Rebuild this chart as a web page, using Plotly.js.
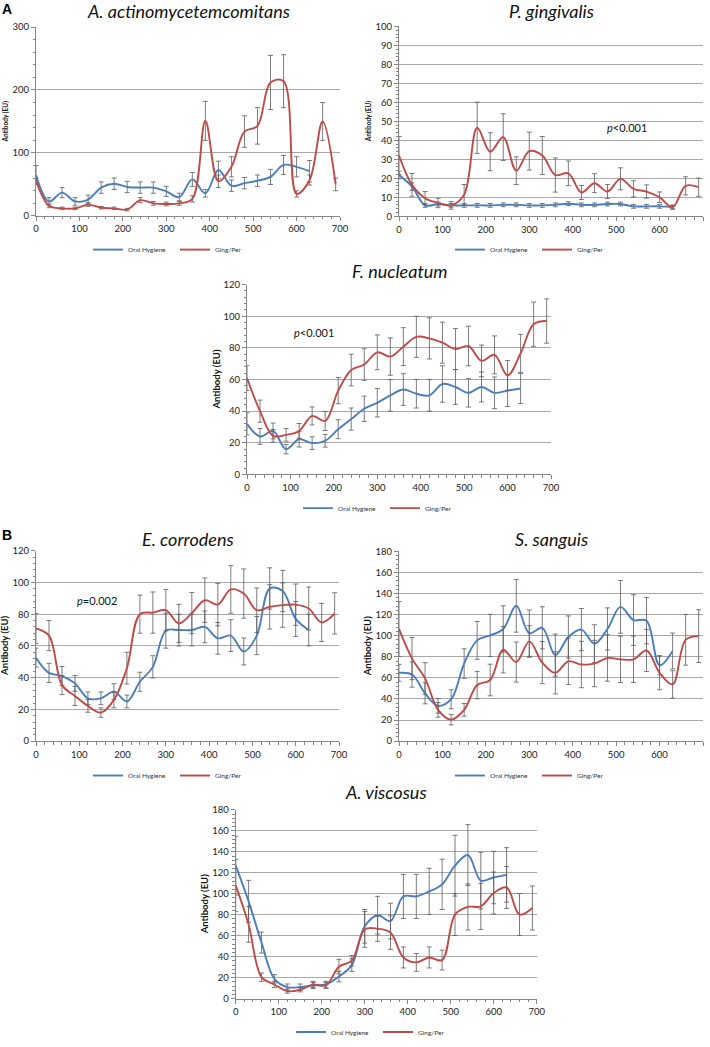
<!DOCTYPE html>
<html>
<head>
<meta charset="utf-8">
<script src="https://cdn.plot.ly/plotly-3.0.1.min.js"></script>
<style>html,body{margin:0;padding:0;background:#fff;}#chart{width:710px;height:1047px;}</style>
</head>
<body>
<div id="chart"></div>
<script>
// ---------- DATA ----------
const days = [0,30,60,90,120,150,180,210,240,270,300,330,360,390,420,450,480,510,540,570,600,630,660,690];
const seriesNames = ['Oral Hygiene','Ging/Per'];
const panelTitles = ['A. actinomycetemcomitans','P. gingivalis','F. nucleatum','E. corrodens','S. sanguis','A. viscosus'];
const pValues = ['', 'p<0.001', 'p<0.001', 'p=0.002', '', ''];

// A. actinomycetemcomitans
const aaOH    = [65,23,37,23,26,45,51,46,45,45,39,30,58,36,73,48,52,56,62,81,78,71];
const aaOHerr = [15,6,8,6,7,9,9,9,9,9,8,6,11,6,14,9,9,9,12,15,16,17];
const aaGP    = [56,16,12,12,18,13,12,10,25,20,19,20,27,151,55,78,134,143,212,214,35,57,150,50];
const aaGPerr = [4,3,2,2,3,2,2,2,4,3,3,3,5,31,10,16,25,29,43,42,5,8,30,10];

// P. gingivalis
const pgOH    = [21.7,15.6,5.7,6.4,5.7,5.7,5.7,5.7,6,6,5.7,5.7,6,6.6,6,6,6.4,6.4,5.2,5.2,5.2,4.9];
const pgOHerr = [2,2,1,1,1,1,1,1,1,1,1,1,1,1,1,1,1,1,1,1,1,1];
const pgGP    = [32,16.5,9.5,7,5.7,11.3,46.6,34,41.7,24,34.3,32,21.7,22.6,12.5,17.4,13,19.7,14.4,13,10,4.7,16,15.3];
const pgGPerr = [10,6,3.5,2.5,2,5.4,13.5,10,12.3,7.3,10,10,9,6.5,3.7,5,3.7,5.8,4.3,3.5,2.8,1,4.8,4.8];

// F. nucleatum
const fnOH    = [32,24,27.5,16,22.3,19.8,21.3,28.6,35,41.5,45.3,50,53.7,51,50,57.2,55.3,51.6,55.3,51.6,53,54.3];
const fnOHerr = [7,5,5,3,5,4,4,6,7,8,9,10,10,9,10,11.5,11,9,9.5,10,10,9.5];
const fnGP    = [61,40,24.4,25,27.5,37,33.8,53,66,69.5,77.2,74.5,80.8,87,86,83.3,79.3,81.2,71.8,75.6,62.6,76.6,95,97];
const fnGPerr = [8,7,4,4,4.7,5.7,6,8.3,10,10,11,11.8,12,13,13,13,13,12.5,10,12,9.4,12,14,14];

// E. corrodens
const ecOH    = [52.6,43,41,36.4,27,27,31.2,25,37.4,46.8,69.6,70,70,72,64.8,66.5,56.5,66.5,96.2,94.6,77,70];
const ecOHerr = [6,6,6,5,4,4,5,4,6,7,11,10,10,10,10,10,8.5,12,13,13,11,10];
const ecGP    = [71,66.5,35.3,28.5,22.2,18,26,46,80,81,82.5,74.2,80.7,88.8,86,95.6,93,82.5,84.6,85.7,86,83.6,74.8,80.5];
const ecGPerr = [9.5,9.5,6,6,4,3,5,10,12,13,13,12,13,14,13.4,15,15.5,14,14,14,13,13.5,12,13];

// S. sanguis
const ssOH    = [64.8,63.2,45.4,33.5,39.8,73.6,95.6,100.3,106.4,128.4,102.4,107.5,81.6,98.8,105.8,92.4,106.4,127.4,114.9,114.3,72,85.5];
const ssOHerr = [8,12,10,7,9,14,18,20,22,25,22,20,20,20,20,18,20,25,24,22,9,17];
const ssGP    = [106.4,78.3,59.5,29.7,20.4,29.7,53.2,58,86.7,75,94.6,74.5,64.8,75.8,72.7,73.6,78.9,77.6,77.6,86,64.8,53.8,96.1,99.6];
const ssGPerr = [26,20,15,7,5,6,13,15,22,19,15,20,20,22,22,22,22,22,22,20,16,13,24,25];

// A. viscosus
const avOH    = [126.8,92.8,53.5,18.9,11,11,12.6,13.5,21,32,69,79.6,74,97.5,97.5,102.3,109,126.8,137,112.6,115.5,118];
const avOHerr = [28,20,10,4,3,3,3,3,5,6,16,18,17,21,21,22,24,29,29,27,25,26];
const avGP    = [108,70.8,20.5,13.5,7.2,8.5,13.5,12.6,30.5,36.2,66,66.7,63,39.3,34.6,39.3,36.8,80.2,87.5,88,100.7,106,80.2,86.5];
const avGPerr = [25,17,4,3,2,2,3,3,7,5,17,12,16,10,8.5,10,9.5,20,22,22,20,20,20,21];

const yTickMax   = [300,100,120,120,180,180];
const yTickStep  = [100,10,20,20,20,20];
const xTickStep  = 100;
const xTickMax   = 700;

const ohSeries = [[aaOH,aaOHerr],[pgOH,pgOHerr],[fnOH,fnOHerr],[ecOH,ecOHerr],[ssOH,ssOHerr],[avOH,avOHerr]];
const gpSeries = [[aaGP,aaGPerr],[pgGP,pgGPerr],[fnGP,fnGPerr],[ecGP,ecGPerr],[ssGP,ssGPerr],[avGP,avGPerr]];

// ---------- LAYOUT GEOMETRY (pixels) ----------
const W = 710, H = 1047;
const fx = p => p / W;
const fy = p => 1 - p / H;
const geom = [
  {x0:36,  x1:340, y0:27.3, y1:218,   titleY:11,  ytX:5,   ytSize:6.5, legX:175, legY:252},
  {x0:399, x1:703, y0:26.7, y1:218.3, titleY:11,  ytX:368, ytSize:6.5, legX:537, legY:252, pX:627, pY:129},
  {x0:247, x1:551, y0:287.4,y1:479,   titleY:274, ytX:217, ytSize:9.5, legX:385, legY:513, pX:314, pY:336},
  {x0:36,  x1:339, y0:556,  y1:748.3, titleY:544, ytX:5,   ytSize:9.5, legX:175, legY:783, pX:97, pY:606},
  {x0:399, x1:703, y0:556.7,y1:748.3, titleY:544, ytX:367, ytSize:9.5, legX:537, legY:783},
  {x0:235.7,x1:536.7,y0:817.7,y1:1008.3,titleY:800,ytX:204, ytSize:9.5, legX:378, legY:1042}
];

const BLUE = '#4a7ebb', RED = '#be4b48', AXIS = '#868686', GRID = '#a8a8a8';
const FONT = 'Lato, "Open Sans", sans-serif';

const traces = [];
const layout = {
  width: W, height: H,
  margin: {l:0, r:0, t:0, b:0},
  paper_bgcolor: '#fff', plot_bgcolor: 'rgba(0,0,0,0)',
  showlegend: true,
  font: {family: FONT, color: '#222'},
  annotations: [],
  shapes: []
};

geom.forEach((g, i) => {
  const sfx = i === 0 ? '' : String(i + 1);
  const legName = 'legend' + sfx;
  [[ohSeries[i], seriesNames[0], BLUE], [gpSeries[i], seriesNames[1], RED]].forEach(([s, name, col]) => {
    traces.push({
      type: 'scatter', mode: 'lines', name: name,
      x: days.slice(0, s[0].length), y: s[0],
      xaxis: 'x' + sfx, yaxis: 'y' + sfx,
      legend: legName,
      line: {color: col, width: 1.9, shape: 'spline', smoothing: 1},
      error_y: {type: 'data', array: s[1], visible: true, color: '#5a5a5a', thickness: 0.8, width: 2.5},
      hoverinfo: 'skip'
    });
  });

  layout['xaxis' + sfx] = {
    domain: [fx(g.x0), fx(g.x1)], anchor: 'y' + sfx,
    range: [0, xTickMax], tick0: 0, dtick: xTickStep,
    showgrid: false, zeroline: false,
    showline: true, linecolor: AXIS, linewidth: 1,
    ticks: 'outside', ticklen: 4, tickcolor: AXIS, tickwidth: 1,
    minor: {ticks: 'outside', ticklen: 2.5, tickcolor: AXIS, dtick: 20, showgrid: false},
    tickfont: {family: FONT, size: 9.5, color: '#222'},
    fixedrange: true
  };
  layout['yaxis' + sfx] = {
    domain: [fy(g.y1), fy(g.y0)], anchor: 'x' + sfx,
    range: [0, yTickMax[i]], tick0: 0, dtick: yTickStep[i],
    showgrid: true, gridcolor: GRID, gridwidth: 1, zeroline: false,
    showline: true, linecolor: AXIS, linewidth: 1,
    ticks: 'outside', ticklen: 4, tickcolor: AXIS, tickwidth: 1,
    minor: {ticks: 'outside', ticklen: 2.5, tickcolor: AXIS, dtick: yTickStep[i] / 5, showgrid: false},
    tickfont: {family: FONT, size: 9.5, color: '#222'},
    fixedrange: true
  };
  layout[legName] = {
    orientation: 'h', x: fx(g.legX), xanchor: 'center', y: fy(g.legY), yanchor: 'middle',
    font: {family: FONT, size: 6.5, color: '#333'},
    itemwidth: 30, entrywidth: 42, bgcolor: 'rgba(0,0,0,0)', borderwidth: 0
  };

  // panel title
  layout.annotations.push({
    xref: 'paper', yref: 'paper', x: fx((g.x0 + g.x1) / 2), y: fy(g.titleY),
    xanchor: 'center', yanchor: 'middle', showarrow: false,
    text: '<i>' + panelTitles[i] + '</i>',
    font: {family: FONT, size: 18, color: '#111'}
  });
  // y-axis title
  layout.annotations.push({
    xref: 'paper', yref: 'paper', x: fx(g.ytX), y: fy((g.y0 + g.y1) / 2),
    xanchor: 'center', yanchor: 'middle', showarrow: false, textangle: -90,
    text: '<b>Antibody (EU)</b>',
    font: {family: FONT, size: g.ytSize, color: '#111'}
  });
  // p-value
  if (pValues[i]) {
    const pv = pValues[i];
    layout.annotations.push({
      xref: 'paper', yref: 'paper', x: fx(g.pX), y: fy(g.pY),
      xanchor: 'center', yanchor: 'middle', showarrow: false,
      text: '<i>p</i>' + pv.slice(1).replace('<', '&lt;'),
      font: {family: FONT, size: 11, color: '#111'}
    });
  }
});

// panel letters
layout.annotations.push({xref:'paper', yref:'paper', x: fx(7), y: fy(9), xanchor:'center', yanchor:'middle',
  showarrow:false, text:'<b>A</b>', font:{family:'Liberation Sans, Arial, sans-serif', size:14, color:'#000'}});
layout.annotations.push({xref:'paper', yref:'paper', x: fx(7), y: fy(540), xanchor:'center', yanchor:'middle',
  showarrow:false, text:'<b>B</b>', font:{family:'Liberation Sans, Arial, sans-serif', size:14, color:'#000'}});

Plotly.newPlot('chart', traces, layout, {staticPlot: true, displayModeBar: false});
</script>
</body>
</html>
